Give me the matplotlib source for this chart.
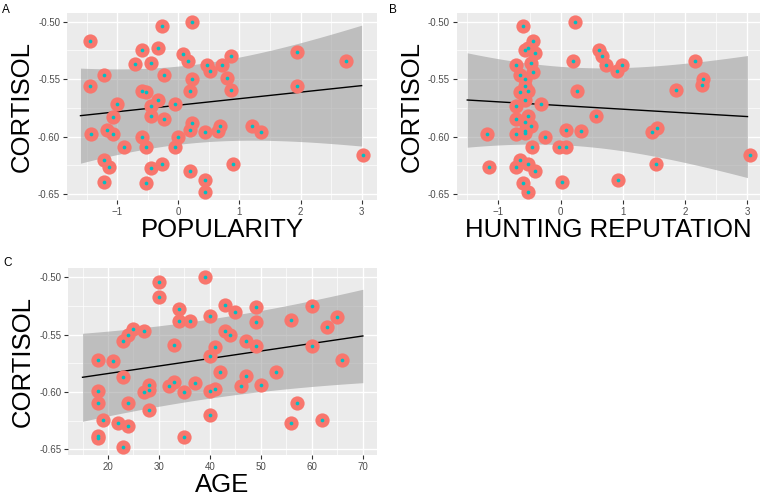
import numpy as np
import matplotlib
matplotlib.use("Agg")
import matplotlib.pyplot as plt
from matplotlib.ticker import MultipleLocator

plt.rcParams['font.family'] = ['Liberation Sans', 'DejaVu Sans']

# --- data ---
# panel A: popularity vs cortisol
pop_x = [-1.45, -1.45, -1.42, -1.21, -1.21, -1.21, -1.16, -1.14, -1.07, -1.07,
         -1.01, -0.89, -0.71, -0.60, -0.60, -0.60, -0.52, -0.52, -0.52, -0.44,
         -0.44, -0.44, -0.44, -0.33, -0.33, -0.27, -0.27, -0.23, -0.23, -0.05,
         -0.05, 0.00, 0.08, 0.16, 0.19, 0.19, 0.19, 0.23, 0.23, 0.23,
         0.44, 0.44, 0.44, 0.47, 0.52, 0.65, 0.68, 0.71, 0.79, 0.86,
         0.86, 0.90, 1.20, 1.36, 1.94, 1.94, 2.75, 3.03]
pop_y = [-0.517, -0.556, -0.598, -0.546, -0.620, -0.639, -0.594, -0.626, -0.583, -0.598,
         -0.572, -0.609, -0.537, -0.525, -0.560, -0.600, -0.561, -0.609, -0.640, -0.536,
         -0.573, -0.582, -0.627, -0.523, -0.568, -0.504, -0.624, -0.546, -0.585, -0.572,
         -0.609, -0.600, -0.528, -0.534, -0.594, -0.630, -0.560, -0.500, -0.550, -0.588,
         -0.596, -0.638, -0.648, -0.538, -0.543, -0.595, -0.591, -0.538, -0.549, -0.530,
         -0.559, -0.624, -0.591, -0.596, -0.526, -0.556, -0.534, -0.616]

# panel B: hunting reputation vs cortisol
hunt_x = [-1.19, -1.15, -0.71, -0.71, -0.71, -0.71, -0.71, -0.66, -0.66, -0.65,
          -0.60, -0.60, -0.58, -0.58, -0.58, -0.58, -0.58, -0.58, -0.58, -0.53,
          -0.53, -0.53, -0.53, -0.52, -0.48, -0.48, -0.46, -0.45, -0.45, -0.41,
          -0.41, -0.31, -0.25, -0.03, 0.02, 0.08, 0.08, 0.19, 0.23, 0.26,
          0.33, 0.56, 0.61, 0.67, 0.72, 0.91, 0.99, 0.92, 1.46, 1.54,
          1.53, 1.86, 2.16, 2.28, 2.27, 3.04]
hunt_y = [-0.598, -0.626, -0.538, -0.585, -0.598, -0.626, -0.573, -0.546, -0.561, -0.620,
          -0.504, -0.640, -0.525, -0.550, -0.556, -0.568, -0.587, -0.595, -0.597, -0.523,
          -0.582, -0.624, -0.648, -0.560, -0.536, -0.591, -0.609, -0.517, -0.544, -0.527,
          -0.630, -0.572, -0.600, -0.609, -0.639, -0.609, -0.594, -0.534, -0.500, -0.560,
          -0.595, -0.582, -0.525, -0.530, -0.538, -0.543, -0.538, -0.638, -0.596, -0.592,
          -0.624, -0.559, -0.534, -0.550, -0.555, -0.616]

# panel C: age vs cortisol
age_x = [18, 18, 18, 18, 18, 19, 21, 22, 23, 23,
         23, 24, 24, 24, 25, 27, 27, 28, 28, 28,
         30, 30, 32, 33, 33, 34, 34, 35, 35, 36,
         37, 39, 40, 40, 40, 40, 41, 41, 42, 43,
         43, 44, 45, 46, 47, 47, 49, 49, 49, 50,
         53, 56, 56, 57, 60, 60, 62, 63, 65, 66]
age_y = [-0.572, -0.599, -0.610, -0.638, -0.640, -0.624, -0.573, -0.627, -0.556, -0.587,
         -0.648, -0.550, -0.610, -0.630, -0.545, -0.547, -0.600, -0.594, -0.598, -0.616,
         -0.504, -0.517, -0.595, -0.559, -0.591, -0.528, -0.538, -0.600, -0.639, -0.538,
         -0.592, -0.500, -0.534, -0.569, -0.599, -0.620, -0.561, -0.597, -0.583, -0.524,
         -0.547, -0.550, -0.530, -0.595, -0.556, -0.586, -0.526, -0.539, -0.560, -0.594,
         -0.583, -0.537, -0.627, -0.610, -0.525, -0.560, -0.624, -0.543, -0.535, -0.572]

# fitted lines (end points) and confidence band read at left / middle / right
fit_A = dict(x=[-1.6, 3.0], y=[-0.5817, -0.5556],
             bx=[-1.6, 0.2, 3.0], hi=[-0.5405, -0.5370, -0.5029], lo=[-0.6231, -0.6050, -0.6080])
fit_B = dict(x=[-1.5, 3.0], y=[-0.5681, -0.5825],
             bx=[-1.5, 0.2, 3.0], hi=[-0.5272, -0.5380, -0.5289], lo=[-0.6092, -0.6060, -0.6350])
fit_C = dict(x=[15, 70], y=[-0.5872, -0.5512],
             bx=[15, 38, 70], hi=[-0.5484, -0.5380, -0.5101], lo=[-0.6251, -0.6070, -0.5915])

panels = [
    ("A", pop_x, pop_y, fit_A, "POPULARITY", (-1.82, 3.25), 1.0,
     [0.0874, 0.597, 0.404, 0.377], (2, 4)),
    ("B", hunt_x, hunt_y, fit_B, "HUNTING REPUTATION", (-1.67, 3.20), 1.0,
     [0.5954, 0.597, 0.3954, 0.377], (389, 4)),
    ("C", age_x, age_y, fit_C, "AGE", (12.2, 72.7), 10,
     [0.089, 0.0827, 0.402, 0.376], (3, 257)),
]

fig = plt.figure(figsize=(7.67, 4.96), dpi=100)
W, H = 767, 496

for letter, xs, ys, fit, xlabel, xlim, step, pos, lpos in panels:
    ax = fig.add_axes(pos)
    ax.set_facecolor('#EBEBEB')

    # confidence band: centre line +- half width (quadratic in hw^2)
    gx = np.linspace(fit['x'][0], fit['x'][1], 200)
    centre = np.interp(gx, fit['x'], fit['y'])
    hw2 = ((np.array(fit['hi']) - np.array(fit['lo'])) / 2) ** 2
    coef = np.polyfit(fit['bx'], hw2, 2)
    hw = np.sqrt(np.clip(np.polyval(coef, gx), 0, None))
    ax.fill_between(gx, centre - hw, centre + hw, color='#999999', alpha=0.55, lw=0, zorder=2)
    ax.plot(gx, centre, color='black', lw=1.0, zorder=3)

    ax.scatter(xs, ys, s=105, color='#F8766D', lw=0, zorder=4)
    ax.scatter(xs, ys, s=7, color='#00BFC4', lw=0, zorder=5)

    ax.set_xlim(*xlim)
    ax.set_ylim(-0.6549, -0.4924)
    ax.xaxis.set_major_locator(MultipleLocator(step))
    ax.xaxis.set_minor_locator(MultipleLocator(step / 2))
    ax.yaxis.set_major_locator(MultipleLocator(0.05))
    ax.yaxis.set_minor_locator(MultipleLocator(0.025))
    ax.yaxis.set_major_formatter(plt.FuncFormatter(lambda v, p: f"{v:.2f}"))
    ax.grid(which='major', color='white', lw=1.0, zorder=0)
    ax.grid(which='minor', color='white', lw=0.5, zorder=0)
    ax.set_axisbelow(True)
    for s in ax.spines.values():
        s.set_visible(False)
    ax.tick_params(which='major', length=3, width=0.8, color='#333333',
                   labelsize=7, labelcolor='#4D4D4D', pad=2)
    ax.tick_params(which='minor', length=0)

    ax.set_xlabel(xlabel, fontsize=18.5, color='black', labelpad=1)
    ax.set_ylabel("CORTISOL", fontsize=18.5, color='black', labelpad=3)

    # panel letter
    fig.text(lpos[0] / W, 1 - lpos[1] / H, letter, fontsize=8.5, va='top', ha='left')

fig.savefig("out.png", dpi=100)
